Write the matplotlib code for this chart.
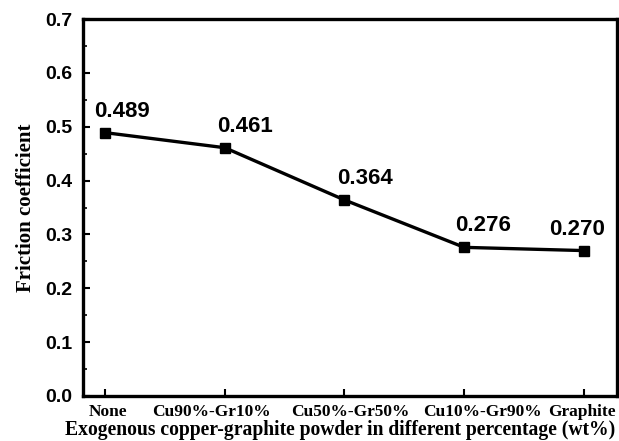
import matplotlib
matplotlib.use("Agg")
import matplotlib.pyplot as plt
from matplotlib.ticker import MultipleLocator

categories = ["None", "Cu90%-Gr10%", "Cu50%-Gr50%", "Cu10%-Gr90%", "Graphite"]
friction = [0.489, 0.461, 0.364, 0.276, 0.270]
value_labels = ["0.489", "0.461", "0.364", "0.276", "0.270"]
yticks = [0.0, 0.1, 0.2, 0.3, 0.4, 0.5, 0.6, 0.7]

fig = plt.figure(figsize=(6.19, 4.41), dpi=100)
ax = fig.add_axes([83/619, 1-396/441, (617-83)/619, (396-19)/441])

x = list(range(len(categories)))
ax.plot(x, friction, color="black", lw=2.4, marker="s", ms=7, mfc="black", mec="black")

offsets = [(12.2, 11.5), (14.4, 11.5), (15.1, 11.5), (13.7, 11.5), (-5, 11.5)]
for xi, yi, lab, off in zip(x, friction, value_labels, offsets):
    ax.annotate(lab, (xi, yi), xytext=off, textcoords="offset points",
                ha="center", va="baseline", fontsize=16, fontweight="bold",
                family="Liberation Sans")

ax.set_xlim(-0.184, 4.276)
ax.set_ylim(0, 0.7)
ax.set_xticks(x)
ax.set_xticklabels([])
# category labels, slightly shifted from their ticks as in the reference
label_shift_pt = [2.2, -9.7, 4.3, 13.0, -1.4]
for xi, cat, dx in zip(x, categories, label_shift_pt):
    ax.annotate(cat, (xi, 0), xycoords=("data", "axes fraction"),
                xytext=(dx, -14.6), textcoords="offset points",
                ha="center", va="baseline", family="Liberation Serif",
                fontweight="bold", fontsize=12.5, annotation_clip=False)
ax.set_yticks(yticks)
ax.set_yticklabels([f"{v:.1f}" for v in yticks], family="Liberation Sans",
                   fontweight="bold", fontsize=14)
ax.yaxis.set_minor_locator(MultipleLocator(0.05))
ax.tick_params(axis="y", which="major", direction="in", length=5, width=1.5, pad=8)
ax.tick_params(axis="x", which="major", direction="in", length=5, width=1.5, pad=5)
ax.tick_params(axis="y", which="minor", direction="in", length=3, width=1.2)
for s in ax.spines.values():
    s.set_linewidth(2.4)

ax.set_ylabel("Friction coefficient", family="Liberation Serif", fontweight="bold", fontsize=15, labelpad=6.5)
fig.text(340/619, 1-435/441, "Exogenous copper-graphite powder in different percentage (wt%)",
         family="Liberation Serif", fontweight="bold", fontsize=14.1, ha="center", va="baseline")

fig.savefig("out.png", dpi=100)
